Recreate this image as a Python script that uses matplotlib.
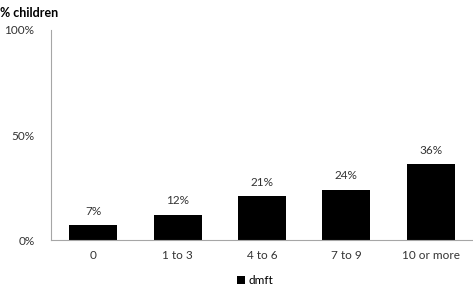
import matplotlib.pyplot as plt
import numpy as np

categories = ['0', '1 to 3', '4 to 6', '7 to 9', '10 or more']
values = [7, 12, 21, 24, 36]
series_name = 'dmft'

plt.rcParams['font.family'] = ['Lato', 'DejaVu Sans']

fig = plt.figure(figsize=(4.73, 2.91), dpi=100)
ax = fig.add_axes([0.108, 0.175, 0.892, 0.722])

idx = np.arange(len(categories))
bars = ax.bar(idx, values, width=0.57, color='black', label=series_name)
for b, v in zip(bars, values):
    ax.text(b.get_x() + b.get_width() / 2, v + 4, '%d%%' % v,
            ha='center', va='bottom', fontsize=8.5, color='#333333')

ax.set_xlim(-0.5, len(categories) - 0.5)
ax.set_ylim(0, 100)
ax.set_yticks([0, 50, 100])
ax.set_yticklabels(['0%', '50%', '100%'])
ax.set_xticks(idx)
ax.set_xticklabels(categories)
ax.tick_params(length=0, labelsize=8.5, colors='#333333')
ax.tick_params(axis='x', pad=7)
ax.tick_params(axis='y', pad=12)
for s in ['top', 'right']:
    ax.spines[s].set_visible(False)
for s in ['left', 'bottom']:
    ax.spines[s].set_color('#a6a6a6')

fig.text(0.0, 0.975, '% children', fontsize=9, fontweight='bold', va='top', ha='left')
fig.legend(loc='lower center', bbox_to_anchor=(0.54, -0.02), frameon=False,
           fontsize=8.5, handlelength=0.7, handleheight=0.7, handletextpad=0.3)

fig.savefig('out.png', dpi=100)
